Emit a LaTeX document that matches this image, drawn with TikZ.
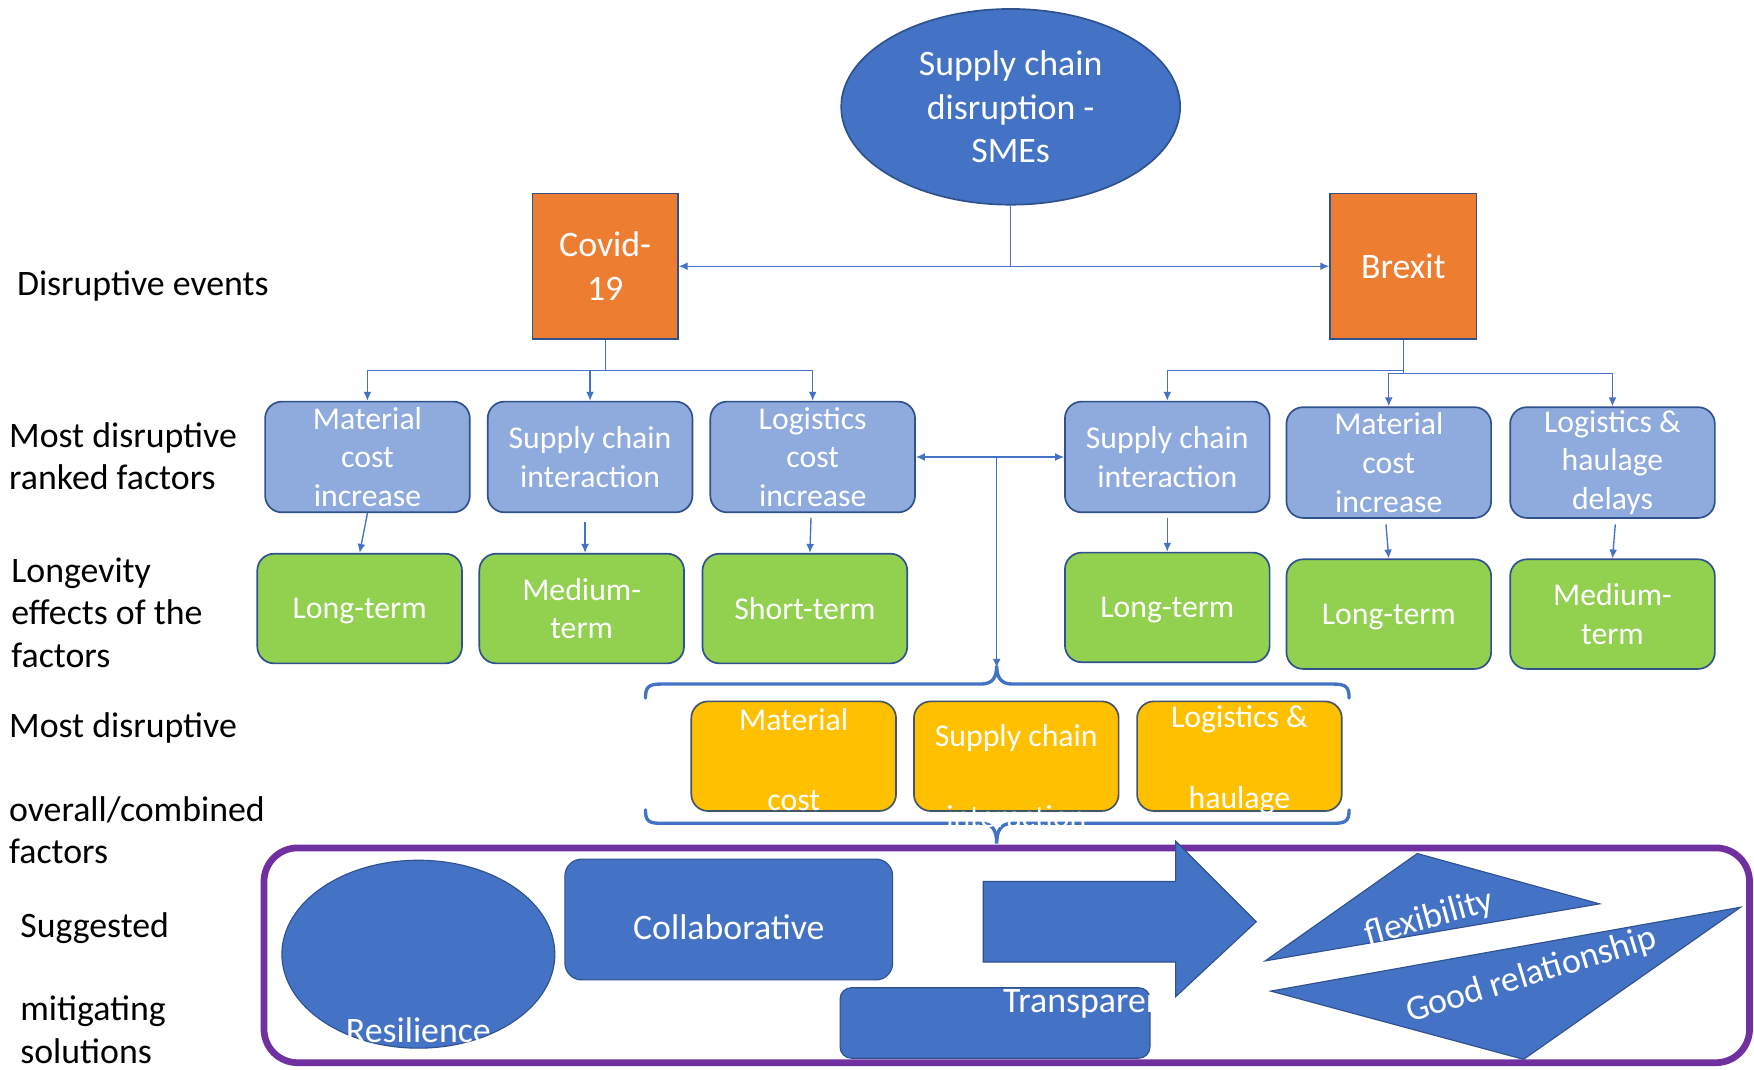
\documentclass[tikz,border=0pt]{standalone}
\usepackage{fontspec}
\setmainfont{Carlito}
\usetikzlibrary{shapes.geometric,arrows.meta}
\definecolor{accblue}{HTML}{4472C4}
\definecolor{edgeblue}{HTML}{2F528F}
\definecolor{lightblue}{HTML}{8FAADC}
\definecolor{orangeev}{HTML}{ED7D31}
\definecolor{greenlt}{HTML}{92D050}
\definecolor{goldbox}{HTML}{FFC000}
\definecolor{goldedge}{HTML}{44546A}
\definecolor{purpleframe}{HTML}{7030A0}
\begin{document}
\begin{tikzpicture}[x=1pt,y=-1pt,
  bigtxt/.style={font=\fontsize{32}{39}\selectfont},
  boxtxt/.style={font=\fontsize{28.4}{34.5}\selectfont},
  lbl/.style={anchor=west,align=left,inner sep=0pt,text=black,font=\fontsize{32}{38}\selectfont},
  event/.style={draw=edgeblue,line width=1.5pt,fill=orangeev,minimum width=130pt,minimum height=130pt,inner sep=0pt,text=white,align=center,bigtxt},
  factor/.style={draw=edgeblue,line width=1.5pt,fill=lightblue,rounded corners=15pt,minimum width=183pt,minimum height=99pt,inner sep=0pt,text=white,align=center,boxtxt},
  effect/.style={draw=edgeblue,line width=1.5pt,fill=greenlt,rounded corners=15pt,minimum width=183pt,minimum height=98pt,inner sep=0pt,text=white,align=center,boxtxt,text depth=0pt},
  combo/.style={draw=goldedge,line width=1.5pt,fill=goldbox,rounded corners=15pt,minimum width=183pt,minimum height=98pt,inner sep=0pt},
  combotxt/.style={text=white,align=center,inner sep=0pt,font=\fontsize{28.4}{72}\selectfont},
  solfill/.style={draw=edgeblue,line width=1pt,fill=accblue},
  solbox/.style={solfill,inner sep=0pt},
  soltxt/.style={text=white,inner sep=0pt,font=\fontsize{32}{38}\selectfont},
  conn/.style={draw=accblue,line width=1.2pt},
  arr/.style={conn,-{Latex[length=8pt,width=7pt]}},
  darr/.style={conn,{Latex[length=8pt,width=7pt]}-{Latex[length=8pt,width=7pt]}},
  brace/.style={draw=accblue,line width=3pt,line cap=round}
]
\useasboundingbox[fill=white] (0,0) rectangle (1568,956);

% left labels
\node[lbl] (lab1) at (15,256) {Disruptive events};
\node[lbl] (lab2) at (8,408) {Most disruptive\\ranked factors};
\node[lbl] (lab3) at (10,547.5) {Longevity\\effects of the\\factors};
\node[lbl] (lab4) at (8,651) {Most disruptive};
\node[lbl] (lab5) at (8,742) {overall/combined\\factors};
\node[lbl] (lab6) at (18,830) {Suggested};
\node[lbl,font=\fontsize{32}{39}\selectfont] (lab7) at (18,920.5) {mitigating\\solutions};

% top
\node[ellipse,draw=edgeblue,line width=1.5pt,fill=accblue,minimum width=303pt,minimum height=175pt,inner sep=0pt,text=white,align=center,bigtxt] (sc) at (903.5,95.5) {Supply chain\\disruption -\\SMEs};
\node[event] (covid) at (541,238) {Covid-\\19};
\node[event,minimum width=131pt] (brexit) at (1254.5,238) {Brexit};
\coordinate (j0) at (903.5,238);
\draw[conn] (sc.south) -- (j0);
\draw[arr] (j0) -- (covid.east);
\draw[arr] (j0) -- (brexit.west);

% ranked factors
\node[factor] (m1) at (328.5,408.5) {Material\\cost\\increase};
\node[factor] (s1) at (527.5,408.5) {Supply chain\\interaction};
\node[factor] (l1) at (726.5,408.5) {Logistics\\cost\\increase};
\node[factor] (s2) at (1043.5,408.5) {Supply chain\\interaction};
\node[factor] (m2) at (1241.5,413.5) {Material\\cost\\increase};
\node[factor] (l2) at (1441.5,413.5) {Logistics \&\\haulage\\delays};

\coordinate (cb) at (541,331);
\draw[conn] (covid.south) -- (cb);
\draw[arr] (cb) -| (m1.north);
\draw[arr] (cb) -| (s1.north);
\draw[arr] (cb) -| (l1.north);

\coordinate (bb) at (1254.5,331);
\coordinate (bb2) at (1254.5,334);
\draw[conn] (brexit.south) -- (bb2);
\draw[arr] (bb) -| (s2.north);
\draw[arr] (bb2) -| (m2.north);
\draw[arr] (bb2) -| (l2.north);

% effects
\node[effect] (g1) at (321.5,544) {Long-term};
\node[effect] (g2) at (520,544) {Medium-\\term};
\node[effect] (g3) at (719.5,544) {Short-term};
\node[effect] (g4) at (1043.5,543) {Long-term};
\node[effect] (g5) at (1241.5,549) {Long-term};
\node[effect] (g6) at (1441.5,549) {Medium-\\term};

\draw[arr] (m1.south) -- (g1.north);
\draw[arr] ([xshift=-4.5pt,yshift=-8pt]s1.south) -- ([xshift=3pt]g2.north);
\draw[arr] ([xshift=-1.5pt,yshift=-4pt]l1.south) -- ([xshift=4.5pt]g3.north);
\draw[arr] ([yshift=-4pt]s2.south) -- (g4.north);
\draw[arr] ([xshift=-2.5pt,yshift=-5pt]m2.south) -- (g5.north);
\draw[arr] ([xshift=2.5pt,yshift=-5pt]l2.south) -- (g6.north);

% middle link
\coordinate (mid) at (891,408.5);
\coordinate (btop) at (891,597);
\draw[darr] (l1.east) -- (s2.west);
\draw[arr] (mid) -- (btop);

% solutions frame
\node[draw=purpleframe,line width=6pt,rounded corners=30pt,fill=white,minimum width=1328pt,minimum height=192pt,inner sep=0pt] (frame) at (900,854) {};

% braces
\draw[brace] (577,624) .. controls (577,614) and (580,611.5) .. (591,611.5) -- (877,611.5) .. controls (887,611.5) and (891,606) .. (891,595) .. controls (891,606) and (895,611.5) .. (905,611.5) -- (1192,611.5) .. controls (1203,611.5) and (1206,614) .. (1206,624);
\draw[brace] (577,724) .. controls (577,734) and (580,736) .. (591,736) -- (877,736) .. controls (887,736) and (891,742) .. (891,754) .. controls (891,742) and (895,736) .. (905,736) -- (1192,736) .. controls (1203,736) and (1206,734) .. (1206,724);

% combined factors
\node[combo] (y1) at (709.5,676) {};
\node[combo] (y2) at (908.5,676) {};
\node[combo] (y3) at (1108,676) {};
\node[combotxt] (y1t) at (709.5,715) {Material\\cost\\increase};
\node[combotxt] (y2t) at (908.5,694) {Supply chain\\interaction};
\node[combotxt] (y3t) at (1108,715) {Logistics \&\\haulage\\delays};

% solutions
\node[ellipse,solbox,minimum width=244pt,minimum height=168pt] (res) at (374,853) {};
\node[soltxt] (restxt) at (374,921) {Resilience};
\node[solbox,rounded corners=15pt,minimum width=293pt,minimum height=108pt] (col) at (651.5,822) {};
\node[soltxt] (coltxt) at (651.5,829) {Collaborative};
\node[solbox,rounded corners=10pt,minimum width=277pt,minimum height=63pt] (tra) at (889.5,914.5) {};
\node[soltxt] (tratxt) at (983,897) {Transparency};
\filldraw[solfill] (879,788) -- (1051,788) -- (1051,752) -- (1123,824) -- (1051,891) -- (1051,860) -- (879,860) -- cycle;
\filldraw[solfill] (1267,763) -- (1430,808) -- (1131,859) -- cycle;
\node[soltxt,rotate=15.5] (flex) at (1278,821) {flexibility};
\filldraw[solfill] (1556,811) -- (1136,886) -- (1362,947) -- cycle;
\node[soltxt,rotate=17] (good) at (1369,872) {Good relationship};
\end{tikzpicture}
\end{document}
